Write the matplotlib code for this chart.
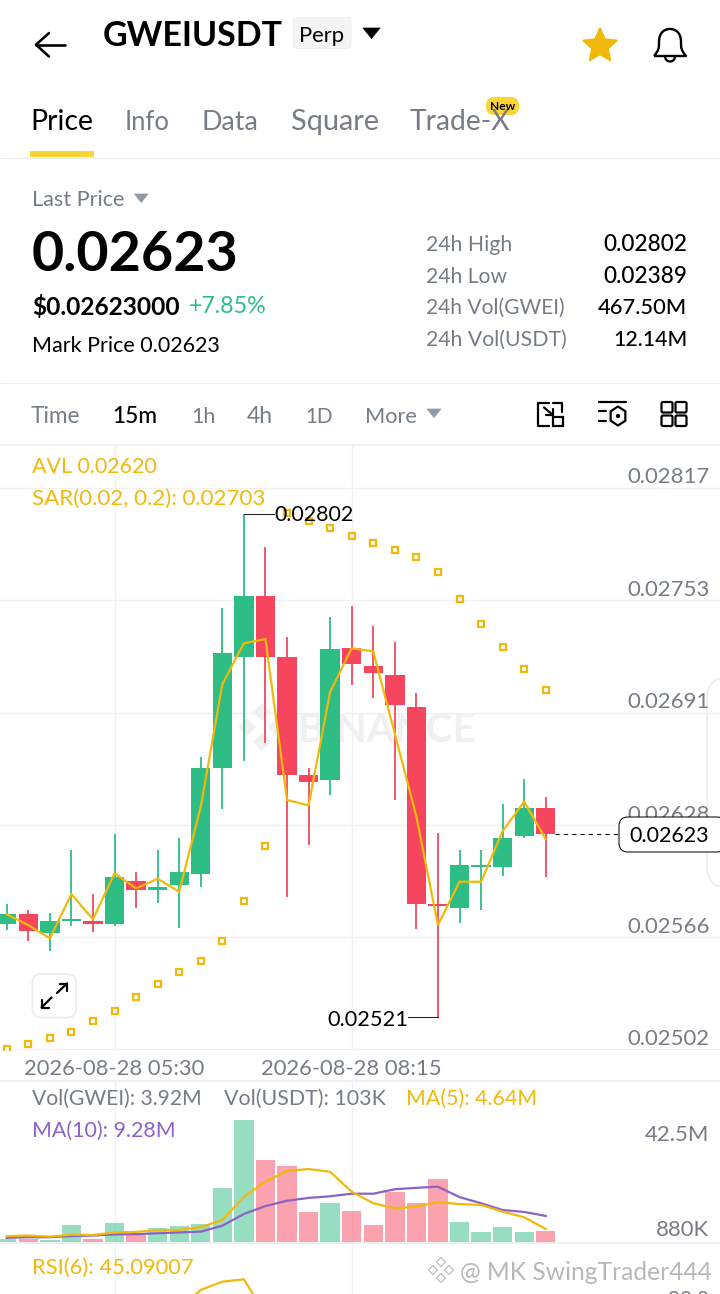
import numpy as np
import matplotlib
matplotlib.use("Agg")
import matplotlib.pyplot as plt
from matplotlib.patches import FancyBboxPatch, Polygon, Rectangle, Circle
from matplotlib.path import Path
from matplotlib.patches import PathPatch
from matplotlib.transforms import ScaledTranslation

plt.rcParams['font.family'] = ['Lato', 'DejaVu Sans']

# ---------- data ----------
open_prices = [.025729, .025786, .025677, .025747, .025747, .025729, .025967, .025919, .025948, .026010, .026600, .027221, .027561,
               .027221, .026561, .026531, .027269, .027171, .027119, .026940, .025839, .025820, .026047, .026049, .026220, .026378]
close_prices = [.025786, .025688, .025746, .025759, .025729, .025990, .025919, .025937, .026018, .026600, .027240, .027561, .027221,
                .026561, .026520, .027262, .027180, .027132, .026950, .025839, .025828, .026058, .026060, .026209, .026378, .026230]
high_prices = [.025839, .025807, .025789, .026142, .025896, .026230, .026019, .026142, .026207, .026659, .027491, .028020, .027831,
               .027329, .026598, .027441, .027504, .027392, .027301, .027020, .026239, .026142, .026142, .026399, .026538, .026438]
low_prices = [.025696, .025636, .025578, .025720, .025686, .025720, .025818, .025848, .025708, .025937, .026369, .026640, .026741,
              .025881, .026168, .026451, .027061, .026990, .026421, .025700, .025210, .025736, .025807, .025997, .026211, .025990]
avl_line = [.025783, .025723, .025649, .025896, .025755, .026012, .025928, .025982, .025909, .026384, .027067, .027296, .027320,
            .026421, .026391, .027025, .027268, .027251, .026791, .026328, .025723, .025965, .025965, .026248, .026412, .026202]
sar_points = [.025031, .025061, .025094, .025126, .025186, .025245, .025323, .025394, .025461, .025524, .025636, .025859, .026163,
              .028023, .027980, .027937, .027896, .027855, .027816, .027777, .027694, .027545, .027405, .027273, .027150, .027033]
volume_m = [1.07, 1.2, 0.7, 6.05, 1.2, 6.6, 2.85, 4.9, 5.7, 6.4, 19.1, 43.4, 29.1,
            26.9, 10.8, 13.9, 11.2, 5.9, 17.9, 13.8, 22.4, 7.2, 3.7, 5.3, 3.4, 3.92]
ma5_m = [2.1, 2.3, 1.9, 2.6, 2.5, 3.4, 3.6, 4.2, 4.3, 5.3, 7.8, 16.1, 21.5,
         25.3, 26.0, 25.0, 17.9, 13.8, 12.0, 12.6, 14.2, 13.5, 13.2, 10.8, 8.8, 4.64]
ma10_m = [1.5, 1.7, 1.7, 2.1, 2.3, 2.7, 2.8, 3.1, 3.4, 3.7, 5.8, 10.0, 12.8,
          14.7, 15.7, 16.3, 17.2, 17.2, 18.8, 19.3, 19.7, 16.0, 13.8, 11.4, 10.7, 9.28]
rsi_index = [8, 9, 10, 11, 12, 13]
rsi_values = [60, 72.7, 78.2, 79.8, 56.7, 40]
price_grid = [.028164, .027536, .026908, .026280, .025655, .025031]
price_labels = ['0.02817', '0.02753', '0.02691', '0.02628', '0.02566', '0.02502']
time_index = [5, 16]
time_labels = ['2026-08-28 05:30', '2026-08-28 08:15']
vol_ticks = [0.88, 42.5]
vol_labels = ['880K', '42.5M']
last_price = 0.02623
high_mark = 0.02802
low_mark = 0.02521
high_index = 11
low_index = 20

GREEN, RED, YEL, BRAND = '#2EBD85', '#F6465D', '#F0B90B', '#FCD535'
PURPLE, GREY, GRID = '#8C62C8', '#767C86', '#F0F1F2'
W, H = 720, 1294
fig = plt.figure(figsize=(7.2, 12.94), dpi=100, facecolor='white')
renderer = fig.canvas.get_renderer()


def pxaxes(z):
    a = fig.add_axes([0, 0, 1, 1], zorder=z)
    a.set_xlim(0, W)
    a.set_ylim(H, 0)
    a.axis('off')
    a.patch.set_alpha(0)
    return a


bg = pxaxes(0)
ui = pxaxes(5)


def panel(top, bottom, z):
    a = fig.add_axes([0, 1 - bottom / H, 1, (bottom - top) / H], zorder=z)
    a.patch.set_alpha(0)
    for s in a.spines.values():
        s.set_visible(False)
    a.set_xlim(-0.311, 33.08)
    return a


def T(x0, x1, yc, s, color='black', weight='normal', ax=None, **kw):
    """Text whose size is fitted so it spans pixels x0..x1, centred on the glyphs at yc."""
    t = (ax or ui).text(x0, yc, s, color=color, fontweight=weight, fontsize=14, ha='left', va='center', **kw)
    w = t.get_window_extent(renderer).width
    size = 14 * (x1 - x0) / w
    t.set_fontsize(size)
    t.set_y(yc + 0.115 * size)
    return t


def L(xs, ys, color='black', w=2.0, ax=None, **kw):
    (ax or ui).plot(xs, ys, color=color, lw=w * 0.72, solid_capstyle=kw.pop('cap', 'round'), solid_joinstyle='round', **kw)


def RB(x0, y0, x1, y1, r, fc, ec='none', lw=0.0, ax=None, **kw):
    p = FancyBboxPatch((x0 + r, y0 + r), x1 - x0 - 2 * r, y1 - y0 - 2 * r, boxstyle=f'round,pad={r},rounding_size={r}',
                       fc=fc, ec=ec, lw=lw * 0.72, **kw)
    (ax or ui).add_patch(p)
    return p


def tri(x0, x1, y0, y1, c):
    ui.add_patch(Polygon([[x0, y0], [x1, y0], [(x0 + x1) / 2, y1]], closed=True, fc=c, ec=c, lw=0.5, joinstyle='round'))


# ---------- header ----------
L([36, 65], [44.7, 44.7], w=2.6)
L([49, 36, 49], [33, 44.7, 56.5], w=2.6)
T(103, 284, 33, 'GWEIUSDT', weight='bold')
RB(293.5, 17.5, 351, 48.5, 4, '#F5F5F5', '#EEEEEE', 1)
T(299, 344.5, 34, 'Perp')
tri(363, 380, 28, 38.5, 'black')
ang = np.deg2rad(np.arange(10) * 36 - 90)
rad = np.where(np.arange(10) % 2 == 0, 17.5, 8.2)
ui.add_patch(Polygon(np.c_[600 + rad * np.cos(ang), 46 + rad * np.sin(ang)], closed=True, fc=YEL, ec=YEL, lw=1.5, joinstyle='round'))
bell = Path([(654, 56), (659, 50), (659, 48), (659, 42), (659, 33), (664, 29), (670, 29), (676, 29), (681, 33), (681, 42),
             (681, 48), (681, 50), (686, 56), (654, 56)],
            [1, 4, 4, 4, 4, 4, 4, 4, 4, 4, 4, 4, 4, 2])
ui.add_patch(PathPatch(bell, fc='none', ec='black', lw=1.7, joinstyle='round'))
ui.add_patch(PathPatch(Path([(665, 57), (666, 63), (674, 63), (675, 57)], [1, 4, 4, 4]), fc='none', ec='black', lw=1.7))

for x0, x1, s, c in [(30, 93, 'Price', 'black'), (125, 170, 'Info', GREY), (202, 259, 'Data', GREY),
                     (290.5, 379, 'Square', GREY), (409.5, 510.5, 'Trade-X', GREY)]:
    T(x0, x1, 120, s, c)
RB(486, 97, 519, 115, 8.5, BRAND)
T(490, 515.5, 106, 'New', weight='bold')
ui.add_patch(Rectangle((30, 151), 64, 6, fc=BRAND, ec='none'))
L([0, W], [157.5, 157.5], '#EAECEF', 1, cap='butt')

# ---------- price summary ----------
T(32, 124.5, 198, 'Last Price', GREY)
tri(134.5, 148, 194, 202.5, '#929AA5')
T(32, 240, 250, '0.02623', weight='bold')
T(32, 181, 305, '$0.02623000', weight='bold')
T(189, 267.5, 305, '+7.85%', GREEN)
T(32, 220.5, 344, 'Mark Price 0.02623')
rows = [(243, '24h High', 512, '0.02802', 603), (275, '24h Low', 507, '0.02389', 603),
        (306.5, '24h Vol(GWEI)', 565, '467.50M', 598), (338, '24h Vol(USDT)', 567, '12.14M', 613)]
for yc, a, x1, b, x0 in rows:
    T(425.5, x1, yc, a, GREY)
    T(x0, 687.5, yc, b, weight='medium')
L([0, W], [383, 383], '#EAECEF', 1, cap='butt')

# ---------- interval bar ----------
for x0, x1, s, c in [(31, 80.5, 'Time', GREY), (112.5, 158, '15m', 'black'), (191, 215.5, '1h', GREY),
                     (246.5, 272.5, '4h', GREY), (305, 332.5, '1D', GREY), (365, 417, 'More', GREY)]:
    T(x0, x1, 415, s, c, weight='medium' if s == '15m' else 'normal')
tri(427, 441, 409, 417.5, '#929AA5')
# icon: resize
L([549, 538, 538, 549], [402.5, 402.5, 426, 426], w=2.2)
L([553, 562, 562], [402.5, 402.5, 412], w=2.2)
ui.add_patch(Rectangle((553, 416.5), 9.5, 9.5, fc='none', ec='black', lw=1.6))
L([544, 553], [407.5, 415], w=2.2)
L([546, 553, 553], [415, 415, 409], w=2.2)
# icon: indicators
L([598.5, 626], [401.5, 401.5], w=2.2)
L([598.5, 606], [411, 411], w=2.2)
L([598.5, 606], [421, 421], w=2.2)
hx = 618 + 8.5 * np.sin(np.deg2rad(np.arange(6) * 60))
hy = 416 - 9.5 * np.cos(np.deg2rad(np.arange(6) * 60))
ui.add_patch(Polygon(np.c_[hx, hy], closed=True, fc='none', ec='black', lw=1.6, joinstyle='round'))
ui.add_patch(Circle((618, 416), 2.2, fc='black', ec='none'))
# icon: grid
for gx in (661.5, 675.5):
    for gy in (402, 415.5):
        RB(gx, gy, gx + 11, gy + 10.5, 1.5, 'none', 'black', 2.2)
L([0, W], [445, 445], '#F0F1F2', 2, cap='butt')

# ---------- watermark + side handle ----------
T(298, 478, 727, 'BINANCE', '#EFF0F2', 'bold', ax=bg)
for dx, dy in [(0, -15), (-15, 0), (15, 0), (0, 15)]:
    bg.add_patch(Polygon([[262 + dx, 727 + dy - 9], [262 + dx + 9, 727 + dy], [262 + dx, 727 + dy + 9], [262 + dx - 9, 727 + dy]], fc='#EFF0F2', ec='none'))
RB(707, 677, 790, 888, 22, 'white', '#E9EAEC', 1.5, ax=bg)

# ---------- price panel ----------
x = np.arange(len(open_prices))
o, c, h, l = map(np.array, (open_prices, close_prices, high_prices, low_prices))
colors = [GREEN if b >= a else RED for a, b in zip(o, c)]
ax = panel(446, 1050, 2)
ax.set_ylim(0.0250260, 0.0283970)
ax.vlines(x, l, h, colors=colors, lw=1.3, zorder=3)
ax.bar(x, np.abs(c - o), bottom=np.minimum(o, c), width=0.9, color=colors, zorder=4, edgecolor='none')
ax.plot(x, avl_line, color=YEL, lw=1.6, zorder=5, solid_joinstyle='miter')
ax.plot(x, sar_points, ls='none', marker='s', ms=3.8, mfc='white', mec=YEL, mew=1.6, zorder=6)
ax.plot([high_index, 12.4], [high_mark, high_mark], color='#222222', lw=0.75, zorder=6)
ax.plot([low_index, 18.6], [low_mark, low_mark], color='#222222', lw=0.75, zorder=6)
ax.plot([25.43, 28.35], [last_price, last_price], color='black', lw=0.75, ls=(0, (4, 4)), zorder=6)
ax.yaxis.tick_right()
ax.set_yticks(price_grid, price_labels)
ax.set_xticks(time_index, time_labels)
ax.grid(True, color=GRID, lw=1.0)
ax.set_axisbelow(True)
ax.tick_params(length=0, axis='y', labelsize=15.9, labelcolor=GREY, pad=-7.6)
ax.tick_params(length=0, axis='x', labelsize=15.8, labelcolor=GREY, pad=6.5)
off = ScaledTranslation(0, 10.5 / 100, fig.dpi_scale_trans)
for lab in ax.get_yticklabels():
    lab.set_ha('right')
    lab.set_va('center')
    lab.set_transform(lab.get_transform() + off)

T(32.3, 157.5, 465, 'AVL 0.02620', YEL)
T(32.3, 267, 496.7, 'SAR(0.02, 0.2): 0.02703', YEL)
T(274.5, 354.5, 513.5, '0.02802')
T(327, 408, 1018, '0.02521')
# current price tag
RB(619, 817, 726, 852, 9, 'white', 'black', 1)
T(629, 709, 834.5, '0.02623')
# expand button
RB(32.5, 974, 76, 1017.5, 9, 'white', '#EDEDED', 2)
L([41.5, 51.5], [1007.5, 997.5], w=2.2)
L([41.5, 41.5, 49], [1000, 1007.5, 1007.5], w=2.2)
L([57, 67], [993, 983.5], w=2.2)
L([59.5, 67, 67], [983.5, 983.5, 991], w=2.2)

# ---------- volume panel ----------
L([0, W], [1081, 1081], '#EAECEF', 1.5, cap='butt')
T(32.3, 202.5, 1096.7, 'Vol(GWEI): 3.92M', GREY)
T(224, 386, 1096.7, 'Vol(USDT): 103K', GREY)
T(406.5, 537.5, 1096.7, 'MA(5): 4.64M', YEL)
T(32.3, 176, 1129.3, 'MA(10): 9.28M', PURPLE)
vx = panel(1082, 1242, 2)
vx.set_ylim(0, 57.0)
vx.bar(x, volume_m, width=0.9, color=colors, alpha=0.5, edgecolor='none', zorder=3)
vx.plot(x, ma10_m, color=PURPLE, lw=1.6, zorder=4)
vx.plot(x, ma5_m, color=YEL, lw=1.6, zorder=5)
vx.yaxis.tick_right()
vx.set_yticks(vol_ticks, vol_labels)
vx.set_xticks(time_index, [])
vx.grid(True, axis='x', color=GRID, lw=1.0)
vx.set_axisbelow(True)
vx.tick_params(length=0, axis='both', labelsize=15.9, labelcolor=GREY)
vx.tick_params(axis='y', pad=-7.6)
for lab, dy in zip(vx.get_yticklabels(), (10, -12.5)):
    lab.set_ha('right')
    lab.set_va('center')
    lab.set_transform(lab.get_transform() + ScaledTranslation(0, dy / 100, fig.dpi_scale_trans))
L([0, W], [1242.5, 1242.5], '#EEEFF1', 2, cap='butt')

# ---------- RSI panel ----------
rx = panel(1243, 1294, 2)
rx.set_ylim(70, 104)
rx.plot(rsi_index, rsi_values, color=YEL, lw=1.6)
rx.set_yticks([])
rx.set_xticks(time_index, [])
rx.grid(True, axis='x', color=GRID, lw=1.0)
rx.set_axisbelow(True)
rx.tick_params(length=0)
T(32.3, 194.5, 1266, 'RSI(6): 45.09007', YEL)
T(668, 709.5, 1298, '80.0', GREY, clip_on=False)

# ---------- user watermark ----------
wc = '#B6B8BB'
for dx, dy in [(0, -8), (-8, 0), (8, 0), (0, 8)]:
    ui.add_patch(Polygon([[441 + dx, 1270 + dy - 4.5], [441 + dx + 4.5, 1270 + dy], [441 + dx, 1270 + dy + 4.5], [441 + dx - 4.5, 1270 + dy]],
                         fc='white', ec=wc, lw=0.8))
T(460, 712, 1270, '@ MK SwingTrader444', wc)

fig.savefig('out.png', dpi=100, facecolor='white')
